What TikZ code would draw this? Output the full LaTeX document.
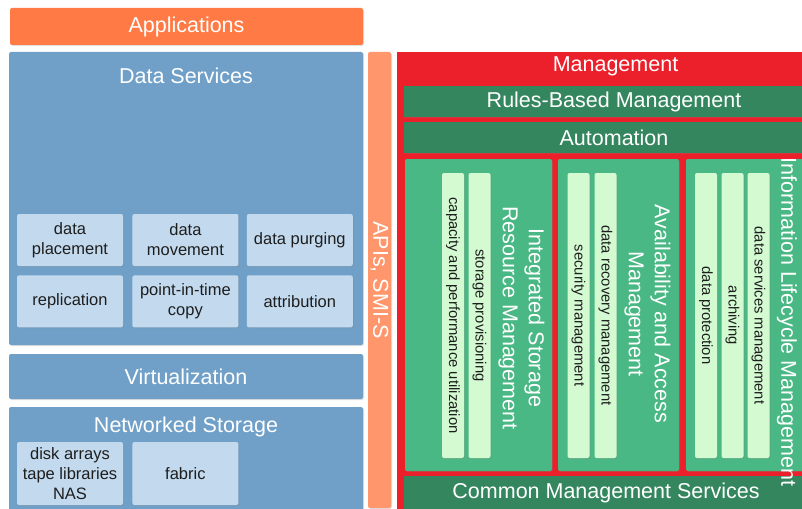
\documentclass[tikz,border=0pt]{standalone}
\usepackage{fontspec}
\setmainfont{Liberation Sans}
\usepackage{tikz}
\usetikzlibrary{positioning, shadows}
\definecolor{appsorange}{RGB}{255,122,68}
\definecolor{apiorange}{RGB}{255,150,108}
\definecolor{dsblue}{RGB}{112,160,200}
\definecolor{svcblue}{RGB}{194,217,238}
\definecolor{mgred}{RGB}{236,32,42}
\definecolor{bargreen}{RGB}{52,134,94}
\definecolor{grpgreen}{RGB}{74,184,132}
\definecolor{stripgreen}{RGB}{212,250,210}
\definecolor{svctext}{RGB}{30,30,30}
\tikzstyle{softshadow} = [drop shadow={shadow xshift=1pt, shadow yshift=-1pt, opacity=0.25}]
\tikzstyle{layer} = [rectangle, rounded corners=2pt, fill=dsblue, text=white, inner sep=0pt, softshadow, font=\fontsize{21.5}{26}\selectfont]
\tikzstyle{title} = [inner sep=0pt, text=white, font=\fontsize{21.5}{26}\selectfont]
\tikzstyle{service} = [rectangle, rounded corners=2pt, fill=svcblue, text=svctext, minimum width=106pt, minimum height=52pt, inner sep=0pt, align=center, softshadow, font=\fontsize{16.5}{20}\selectfont]
\tikzstyle{bar} = [rectangle, fill=bargreen, text=white, minimum width=420pt, minimum height=31pt, inner sep=0pt, softshadow, font=\fontsize{21.5}{26}\selectfont]
\tikzstyle{group} = [rectangle, rounded corners=2pt, fill=grpgreen, minimum height=312pt, inner sep=0pt, softshadow]
\tikzstyle{grouptitle} = [rotate=-90, text=white, align=center, inner sep=0pt, font=\fontsize{21.5}{26}\selectfont]
\tikzstyle{strip} = [rectangle, rotate=-90, rounded corners=2pt, fill=stripgreen, text=svctext, minimum width=285pt, minimum height=22pt, inner sep=0pt, softshadow, font=\fontsize{14.8}{18}\selectfont]

\begin{document}
\begin{tikzpicture}[x=1pt, y=-1pt]
\useasboundingbox (0,0) rectangle (802,508);
\clip (0,0) rectangle (802,508);

% storage stack
\node (apps) [layer, fill=appsorange, minimum width=353pt, minimum height=37pt] at (186.5,26.5) {Applications};
\node (ds) [layer, minimum width=354pt, minimum height=293pt] at (186,198.5) {};
\node (dstitle) [title, below=16pt of ds.north] {Data Services};
\node (place) [service] at (70,240) {data\\placement};
\node (move) [service, right=9pt of place] {data\\movement};
\node (purge) [service, right=8pt of move] {data purging};
\node (repl) [service, below=9pt of place] {replication};
\node (pit) [service, below=9pt of move] {point-in-time\\copy};
\node (attr) [service, below=9pt of purge] {attribution};
\node (virt) [layer, minimum width=354pt, minimum height=45pt] at (186,376.5) {Virtualization};
\node (ns) [layer, minimum width=354pt, minimum height=120pt] at (186,467) {};
\node (nstitle) [title, below=10pt of ns.north] {Networked Storage};
\node (disks) [service, minimum height=63pt] at (70,473.5) {disk arrays\\tape libraries\\NAS};
\node (fabric) [service, minimum height=63pt, right=9pt of disks] {fabric};

% interface bar
\node (api) [layer, fill=apiorange, rotate=-90, minimum width=456pt, minimum height=23pt] at (379.5,280) {APIs, SMI-S};

% management
\node (mgmt) [rectangle, fill=mgred, minimum width=437pt, minimum height=470pt, inner sep=0pt] at (615.5,287) {};
\node (mgtitle) [title, below=5pt of mgmt.north] {Management};
\node (rules) [bar] at (614,101.5) {Rules-Based Management};
\node (auto) [bar, below=5pt of rules] {Automation};
\node (isrm) [group, minimum width=147pt] at (478.5,315) {};
\node (aam) [group, minimum width=121pt] at (618.5,315) {};
\node (ilm) [group, minimum width=130pt] at (751,315) {};
\node (cms) [bar, minimum width=404pt, minimum height=34pt] at (606,493) {Common Management Services};

\node (cap) [strip] at (453,315.5) {capacity and performance utilization};
\node (prov) [strip] at (479.5,315.5) {storage provisioning};
\node (isrmtitle) [grouptitle] at (521.5,318) {Integrated Storage\\Resource Management};
\node (sec) [strip] at (578.5,315.5) {security management};
\node (recov) [strip] at (605.5,315.5) {data recovery management};
\node (aamtitle) [grouptitle] at (647.5,314) {Availability and Access\\Management};
\node (prot) [strip] at (706,315.5) {data protection};
\node (arch) [strip] at (732.5,315.5) {archiving};
\node (dsm) [strip] at (758.5,315.5) {data services management};
\node (ilmtitle) [grouptitle] at (787,322) {Information Lifecycle Management};
\end{tikzpicture}
\end{document}
